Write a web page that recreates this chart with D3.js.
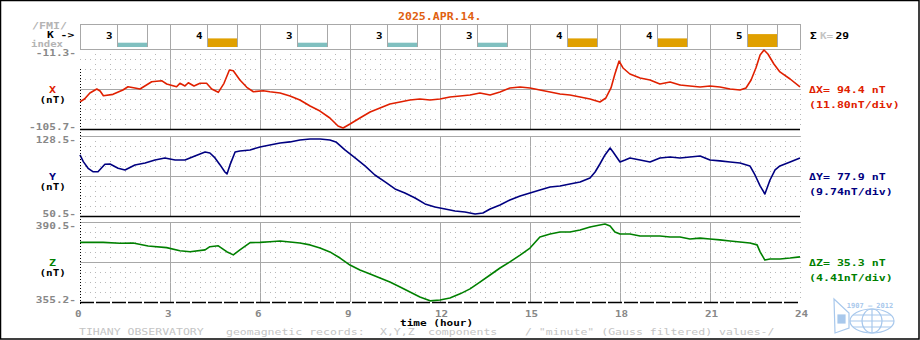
<!DOCTYPE html>
<meta charset="utf-8">
<script src="https://d3js.org/d3.v7.min.js"></script>
<style>
body { margin: 0; background: #fff; }
text { font-family: "DejaVu Sans Mono", monospace; font-weight: bold; }
.solid { stroke: #a8a8a8; stroke-width: 1; shape-rendering: crispEdges; }
.vdot { stroke: #b8b8b8; stroke-width: 1; stroke-dasharray: 1,4; shape-rendering: crispEdges; }
.hdot { stroke: #b8b8b8; stroke-width: 1; stroke-dasharray: 1,4; shape-rendering: crispEdges; }
.curve { fill: none; stroke-width: 1.6; stroke-linejoin: round; }
</style>
<body>
<script>

const width = 920, height = 340;

// K index per 3-hour interval
const kIndex = [3, 4, 3, 3, 3, 4, 4, 5];
const hourTicks = [0, 3, 6, 9, 12, 15, 18, 21, 24];

// [hour, nT]
const xData = [[0,-73.5],[0.15,-70.3],[0.33,-63.2],[0.56,-58.5],[0.67,-60.9],[0.78,-66.4],[1.1,-64.8],[1.43,-59.7],[1.6,-55.8],[1.83,-57.3],[2,-58.5],[2.39,-49.9],[2.72,-48.7],[2.89,-52.6],[3.22,-55.8],[3.33,-51.8],[3.5,-55],[3.61,-51.1],[3.8,-55],[4,-51.8],[4.22,-51.8],[4.39,-58.5],[4.61,-62.4],[4.8,-51.8],[4.98,-36.1],[5.11,-36.9],[5.33,-47.9],[5.56,-56.5],[5.78,-61.7],[6.11,-60.5],[6.33,-61.7],[6.67,-63.2],[7,-66.8],[7.33,-71.5],[7.67,-78.6],[8,-84.5],[8.33,-92.7],[8.6,-102.2],[8.77,-104.5],[9,-99.8],[9.33,-92.7],[9.67,-85.6],[10,-80.9],[10.33,-76.2],[10.67,-73.8],[11,-71.5],[11.33,-70.3],[11.67,-71.5],[12,-70.3],[12.33,-67.9],[12.67,-66.8],[13,-65.6],[13.33,-63.2],[13.67,-65.6],[14,-62],[14.33,-57.3],[14.67,-56.1],[15,-57.3],[15.33,-59.7],[15.67,-62],[16,-64.4],[16.33,-65.6],[16.67,-67.9],[17,-70.3],[17.33,-73.8],[17.53,-69.1],[17.7,-57.3],[17.83,-40.8],[17.97,-25.5],[18.1,-33.7],[18.33,-40.8],[18.67,-45.5],[19,-47.9],[19.33,-52.6],[19.67,-50.2],[20,-53.8],[20.33,-55],[20.67,-56.1],[21,-55],[21.33,-56.1],[21.67,-58.5],[22,-59.7],[22.2,-57.3],[22.37,-47.9],[22.53,-33.7],[22.67,-18.4],[22.8,-12.5],[22.93,-17.2],[23.13,-29],[23.33,-38.4],[23.67,-46.7],[24,-56.1]];

const yData = [[0,110],[0.11,103.5],[0.27,97],[0.43,93.7],[0.6,93.7],[0.83,100.9],[1,101.2],[1.27,97],[1.5,95.4],[1.83,100.3],[2.17,102.2],[2.5,105.1],[2.83,107.1],[3.17,105.1],[3.5,105.1],[3.83,109],[4.17,112.9],[4.33,111.9],[4.5,107.1],[4.67,100.3],[4.83,93.4],[4.9,91.5],[5,100.3],[5.17,112.9],[5.33,113.9],[5.67,114.9],[6,117.8],[6.33,119.7],[6.67,121.7],[7,122.7],[7.33,124.6],[7.67,125.6],[8,125.6],[8.33,124.6],[8.53,122.7],[8.83,114.9],[9.17,107.1],[9.5,99.3],[9.83,90.5],[10.17,83.7],[10.5,76.9],[10.83,73],[11.17,68.1],[11.5,62.3],[11.83,59.3],[12.17,57.4],[12.5,55.4],[12.83,54.5],[13.17,52.5],[13.43,53.5],[13.67,57.4],[14,61.3],[14.33,66.2],[14.67,70.1],[15,73],[15.33,75.9],[15.67,78.8],[16,79.8],[16.33,81.7],[16.67,83.7],[17,87.6],[17.17,93.4],[17.33,101.2],[17.5,110],[17.67,116.8],[17.77,112.9],[18,103.2],[18.17,105.1],[18.33,107.1],[18.67,105.1],[19,103.2],[19.33,107.1],[19.67,108],[20,107.1],[20.33,108],[20.67,109],[21,105.1],[21.33,104.2],[21.67,103.2],[22,102.2],[22.33,99.3],[22.5,90.5],[22.67,79.8],[22.83,72],[23,85.6],[23.17,95.4],[23.33,99.3],[23.67,103.2],[24,107.1]];

const zData = [[0,381.5],[0.77,381.5],[1.33,381.1],[1.77,381.2],[2.27,379.9],[2.89,379.2],[3.33,377.8],[3.67,377.4],[4.17,378.2],[4.33,379.6],[4.61,380],[4.89,377.4],[5.11,376],[5.33,378.2],[5.67,381.4],[6,381.5],[6.33,381.8],[6.67,382.1],[7,381.7],[7.33,381.2],[7.67,380.4],[8,379],[8.33,377.3],[8.67,374.6],[9,371.5],[9.33,369.3],[9.67,367.6],[10,365.8],[10.33,364],[10.67,361.8],[11,359.6],[11.33,357.4],[11.67,355.7],[12,356.1],[12.33,357],[12.67,358.8],[13,361],[13.33,364],[13.67,367.1],[14,370.2],[14.33,372.9],[14.67,375.9],[15,379],[15.33,383.9],[15.67,385.2],[16,386.1],[16.33,386.1],[16.67,387],[17,388.3],[17.33,389.2],[17.5,389.6],[17.67,388.7],[17.83,386.1],[18,385.2],[18.33,385.2],[18.67,384.3],[19,384.3],[19.33,384.3],[19.67,383.9],[20,383.9],[20.33,383],[20.67,383.4],[21,383],[21.33,382.6],[21.67,382.1],[22,381.7],[22.33,381.2],[22.57,380.4],[22.67,377.3],[22.83,373.7],[23,374.2],[23.33,374.2],[23.67,374.6],[24,375.1]];

const panels = [
  { name: 'X', top: 49,  lo: -105.7, hi: -11.3,  color: '#e02000', data: xData },
  { name: 'Y', top: 136, lo: 50.54,  hi: 128.46, color: '#000080', data: yData },
  { name: 'Z', top: 222, lo: 355.2,  hi: 390.5,  color: '#008000', data: zData }
];
const panelH = 80;

const svg = d3.select("body").append("svg")
    .attr("width", width)
    .attr("height", height);

svg.append("rect")
    .attr("x", 0.5).attr("y", 0.5)
    .attr("width", width - 1.5).attr("height", height - 1.5)
    .attr("fill", "#fff").attr("stroke", "#000").attr("stroke-width", 1.5);

// wide pixel-ish lettering: small glyphs stretched to a fixed cell width
function label(g, px, py, str, size, cell, fill) {
  str = String(str);
  return g.append("text")
      .attr("x", px).attr("y", py)
      .attr("fill", fill || "#000")
      .attr("textLength", str.length * cell)
      .attr("lengthAdjust", "spacingAndGlyphs")
      .style("font-size", size + "px")
      .text(str);
}

let x = d3.scaleLinear().domain([0, 24]).range([80, 800]);

// title
label(svg, 398, 20, "2025.APR.14.", 10, 6.95, "#e06010");

// K index strip
let kTop = 24, kBot = 49, kBarBase = 47;
let kY = d3.scaleLinear().domain([2, 7]).range([kBarBase, kBarBase - 21.5]);
let kColor = k => k <= 3 ? "#80c0c0" : "#e0a000";

let kg = svg.append("g");
kIndex.forEach((k, i) => {
  let x0 = x(i * 3);
  kg.append("rect")
      .attr("x", x0 + 37).attr("y", kY(k))
      .attr("width", 31).attr("height", kBarBase - kY(k))
      .attr("fill", kColor(k));
  kg.append("line").attr("class", "solid")
      .attr("x1", x0 + 37.5).attr("x2", x0 + 37.5).attr("y1", kTop).attr("y2", kBarBase);
  kg.append("line").attr("class", "solid")
      .attr("x1", x0 + 67.5).attr("x2", x0 + 67.5).attr("y1", kTop).attr("y2", kBarBase);
  label(kg, x0 + 26, 38.5, k, 9, 6.5);
});
kg.append("line").attr("class", "solid").attr("x1", 80).attr("x2", 800).attr("y1", kTop + 0.5).attr("y2", kTop + 0.5);
hourTicks.forEach(h => {
  kg.append("line").attr("class", "solid")
      .attr("x1", x(h) + 0.5).attr("x2", x(h) + 0.5).attr("y1", kTop).attr("y2", kBot);
});

label(svg, 32, 28.5, "/FMI/", 8, 7, "#b4b4b4");
label(svg, 47, 38, "K ->", 8.5, 6.8, "#000");
label(svg, 31, 46.5, "index", 8, 6.4, "#b4b4b4");

label(svg, 810, 39.3, "Σ", 9, 6.7, "#000");
label(svg, 820, 39.3, "K=", 9, 6.6, "#c4c4c4");
label(svg, 835.5, 39.3, d3.sum(kIndex), 9, 6.8, "#000");

// data panels
panels.forEach(p => {
  let g = svg.append("g");
  let y = d3.scaleLinear().domain([p.lo, p.hi]).range([p.top + panelH, p.top]);
  let bot = p.top + panelH;

  // half-hour dotted verticals
  d3.range(0.5, 24.01, 0.5).filter(h => h % 3 !== 0).forEach(h => {
    g.append("line").attr("class", "vdot")
        .attr("x1", x(h) + 0.5).attr("x2", x(h) + 0.5).attr("y1", p.top).attr("y2", bot);
  });
  g.append("line").attr("class", "vdot")
      .attr("x1", 800.5).attr("x2", 800.5).attr("y1", p.top).attr("y2", bot);
  hourTicks.slice(1, -1).forEach(h => {
    g.append("line").attr("class", "solid")
        .attr("x1", x(h) + 0.5).attr("x2", x(h) + 0.5).attr("y1", p.top).attr("y2", bot);
  });

  // horizontal divisions
  d3.range(0, 8).forEach(i => {
    let yy = p.top + i * 10 + 0.5;
    g.append("line").attr("class", (i === 0 || i === 4) ? "solid" : "hdot")
        .attr("x1", 80).attr("x2", 800).attr("y1", yy).attr("y2", yy);
  });
  g.append("line")
      .attr("x1", 80).attr("x2", 800).attr("y1", bot + 0.5).attr("y2", bot + 0.5)
      .attr("stroke", "#000").attr("stroke-width", 1.5)
      .attr("stroke-dasharray", p.name === 'Z' ? "14,2" : null);

  let line = d3.line().x(d => x(d[0])).y(d => y(d[1]));
  g.append("path").datum(p.data)
      .attr("class", "curve")
      .attr("stroke", p.color)
      .attr("d", line);

  // left labels
  let hiTxt = p.hi.toFixed(1) + "-", loTxt = p.lo.toFixed(1) + "-";
  label(g, 76 - hiTxt.length * 6.7, p.top + 7, hiTxt, 8.5, 6.7, "#888");
  label(g, 76 - loTxt.length * 6.7, bot + 0.5, loTxt, 8.5, 6.7, "#888");
  label(g, 49, p.top + 43.5, p.name, 9, 7, p.color);
  label(g, 39.5, p.top + 53.5, "(nT)", 9, 6.6, "#000");

  // right labels
  let delta = p.hi - p.lo;
  label(g, 809, p.top + 44, "Δ" + p.name + "= " + delta.toFixed(1) + " nT", 9.5, 6.97, p.color);
  label(g, 809, p.top + 59, "(" + (delta / 8).toFixed(2) + "nT/div)", 9.5, 6.97, p.color);
});

// left edge
svg.append("line")
    .attr("x1", 80.5).attr("x2", 80.5).attr("y1", 69).attr("y2", 304)
    .attr("stroke", "#000").attr("stroke-dasharray", "1,2");

// hour axis
hourTicks.forEach(h => {
  label(svg, x(h) - 5, 317, h, 8.5, 6.6, "#888");
});
label(svg, 400, 326, "time (hour)", 8.5, 6.65, "#000");

const footer = [
  [79, "TIHANY OBSERVATORY"],
  [226, "geomagnetic records:"],
  [380, "X,Y,Z"],
  [428, "components"],
  [525, "/ \"minute\" (Gauss filtered) values-/"]
];
footer.forEach(f => {
  label(svg, f[0], 335, f[1], 8.5, 6.93, "#c4c4c4").style("font-weight", "normal");
});

// observatory logo
let logo = svg.append("g").attr("stroke", "#a8c8ec").attr("fill", "none").attr("stroke-width", 1.2);
logo.append("path").attr("d", "M834,299 L849,313 L849,328 L835,333 Z");
logo.append("rect").attr("x", 838).attr("y", 315).attr("width", 7).attr("height", 8).attr("fill", "#a8c8ec");
logo.append("ellipse").attr("cx", 872).attr("cy", 321).attr("rx", 22).attr("ry", 12);
logo.append("ellipse").attr("cx", 872).attr("cy", 321).attr("rx", 10).attr("ry", 12);
logo.append("line").attr("x1", 872).attr("x2", 872).attr("y1", 309).attr("y2", 333);
logo.append("line").attr("x1", 850).attr("x2", 894).attr("y1", 321).attr("y2", 321);
logo.append("line").attr("x1", 853).attr("x2", 891).attr("y1", 315).attr("y2", 315);
logo.append("line").attr("x1", 853).attr("x2", 891).attr("y1", 327).attr("y2", 327);
logo.append("text").attr("x", 870).attr("y", 308).attr("text-anchor", "middle")
    .attr("stroke", "none").attr("fill", "#a8c8ec").style("font-size", "7px")
    .text("1907 — 2012");

</script>
